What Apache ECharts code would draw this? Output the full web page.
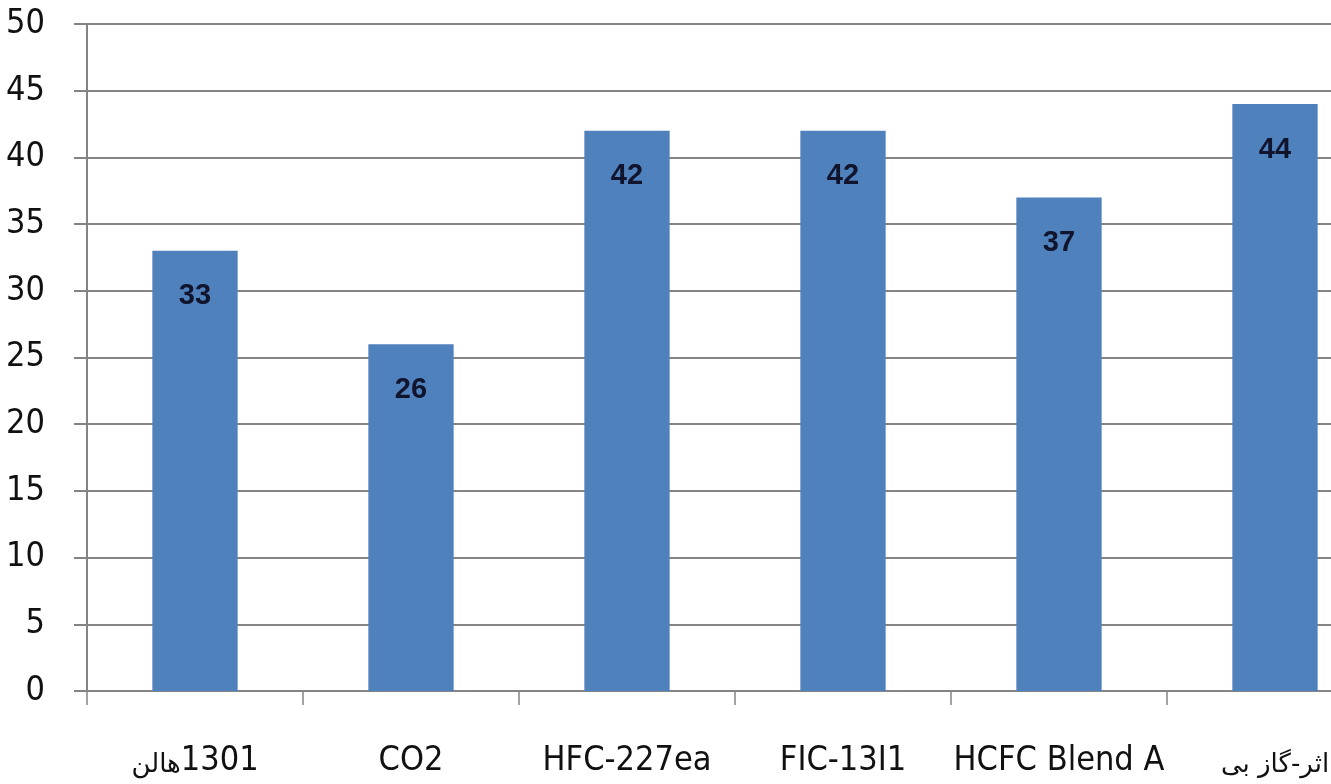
<!DOCTYPE html>
<html>
<head>
<meta charset="utf-8">
<title>Bar chart</title>
<script src="https://cdn.jsdelivr.net/npm/echarts@6/dist/echarts.min.js"></script>
<style>
  html, body { margin: 0; padding: 0; background: #ffffff; overflow: hidden; }
  /* the plot runs past the right edge of the window, so the canvas is wider than the view */
  #chart { width: 1400px; height: 784px; }
</style>
</head>
<body>
<div id="chart"></div>
<script>
// Agent names along the category axis
const categories = ['هالن1301', 'CO2', 'HFC-227ea', 'FIC-13I1', 'HCFC Blend A', 'اثر-گاز بی'];
// Bar values, one per agent
const values = [33, 26, 42, 42, 37, 44];
// Value axis range and step
const yMin = 0;
const yMax = 50;
const yStep = 5;

const gray = '#848484';
const textFont = '"DejaVu Sans Condensed", "DejaVu Sans", sans-serif';

// Persian runs get their own (smaller) text style; rich tokens are laid out left to right
const persianRun = /([\u0600-\u06FF](?:[\u0600-\u06FF\s\-]*[\u0600-\u06FF])?)/g;
function categoryLabel(value) {
  return value.replace(persianRun, '{fa|$1}');
}

const chart = echarts.init(document.getElementById('chart'), null, { renderer: 'canvas' });

chart.setOption({
  backgroundColor: '#ffffff',
  animation: false,
  grid: {
    left: 87,
    top: 24,
    width: 1296,
    height: 667,
    containLabel: false
  },
  xAxis: {
    type: 'category',
    data: categories,
    boundaryGap: true,
    axisLine: { show: true, lineStyle: { color: gray, width: 2 } },
    axisTick: { show: true, length: 14, inside: false, alignWithLabel: false, lineStyle: { color: gray, width: 1.5 } },
    axisLabel: {
      interval: 0,
      margin: 53,
      color: '#111111',
      fontFamily: textFont,
      fontSize: 34,
      formatter: categoryLabel,
      rich: {
        fa: {
          color: '#111111',
          fontFamily: '"DejaVu Sans", sans-serif',
          fontSize: 26,
          padding: [8, 0, 0, 0]
        }
      }
    },
    splitLine: { show: false }
  },
  yAxis: {
    type: 'value',
    min: yMin,
    max: yMax,
    interval: yStep,
    axisLine: { show: true, lineStyle: { color: gray, width: 2 } },
    axisTick: { show: true, length: 13, inside: false, lineStyle: { color: gray, width: 2 } },
    axisLabel: {
      margin: 42,
      color: '#111111',
      fontFamily: textFont,
      fontSize: 34
    },
    splitLine: { show: true, lineStyle: { color: gray, width: 2 } }
  },
  series: [{
    type: 'bar',
    data: values,
    barWidth: '39.5%',
    itemStyle: { color: '#4f81bd' },
    label: {
      show: true,
      position: 'insideTop',
      distance: 31,
      color: '#10142c',
      fontFamily: '"Liberation Sans", Arial, sans-serif',
      fontWeight: 'bold',
      fontSize: 29,
      formatter: function (p) { return String(Math.round(p.value)); }
    }
  }]
});
</script>
</body>
</html>
